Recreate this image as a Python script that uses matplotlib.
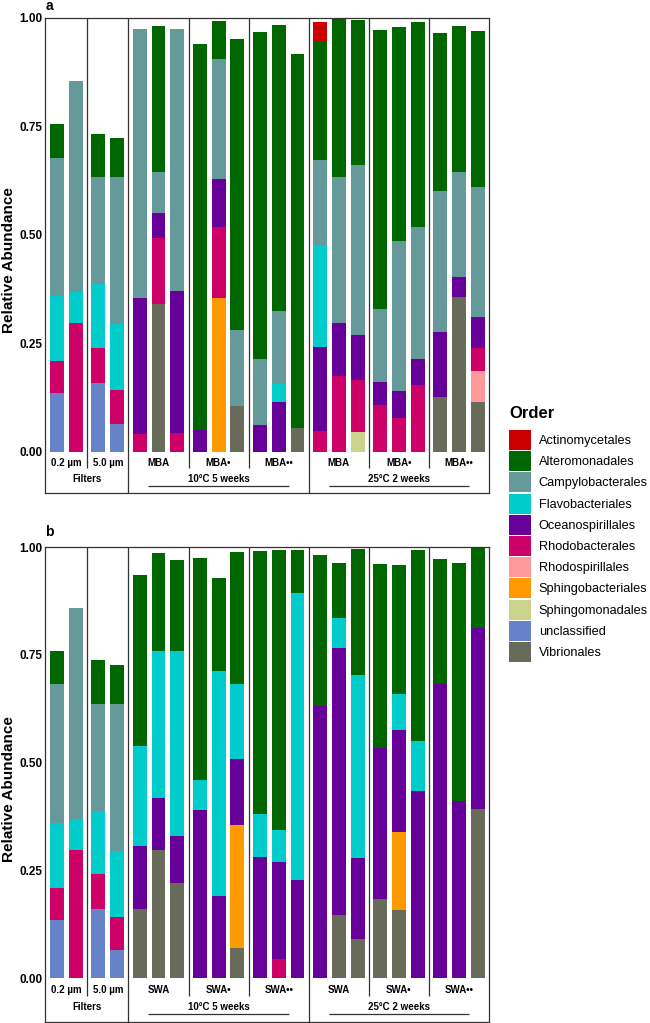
import matplotlib
matplotlib.use("Agg")
import matplotlib.pyplot as plt
from matplotlib.patches import Patch
import numpy as np

plt.rcParams['font.family'] = ['Liberation Sans', 'DejaVu Sans']

# ---------------- data ----------------
orders = ["Actinomycetales", "Alteromonadales", "Campylobacterales", "Flavobacteriales",
          "Oceanospirillales", "Rhodobacterales", "Rhodospirillales", "Sphingobacteriales",
          "Sphingomonadales", "unclassified", "Vibrionales"]
order_colors = ["#CC0000", "#006600", "#669999", "#00CCCC", "#660099", "#CC0066",
                "#FF9999", "#FF9900", "#CCD38C", "#6682C8", "#696B5A"]

group_sizes = [2, 2, 3, 3, 3, 3, 3, 3]
sub_labels_a = ["0.2 µm", "5.0 µm", "MBA", "MBA•", "MBA••", "MBA", "MBA•", "MBA••"]
sub_labels_b = ["0.2 µm", "5.0 µm", "SWA", "SWA•", "SWA••", "SWA", "SWA•", "SWA••"]
main_groups = ["Filters", "10°C 5 weeks", "25°C 2 weeks"]
main_group_span = [(0, 1), (2, 4), (5, 7)]   # which sub-groups belong to each main group
y_ticks = [0.0, 0.25, 0.5, 0.75, 1.0]
y_tick_labels = ["0.00", "0.25", "0.50", "0.75", "1.00"]

# panel a (MBA) -- relative abundance per order, 22 samples
a_actinomycetales = [0, 0, 0, 0, 0, 0, 0, 0, 0, 0, 0, 0, 0, .042, 0, 0, 0, 0, 0, 0, 0, 0]
a_alteromonadales = [.077, 0, .099, .089, 0, .338, 0, .889, .088, .671, .754, .658, .863,
                     .275, .364, .334, .642, .493, .472, .364, .338, .358]
a_campylobacterales = [.319, .487, .246, .339, .620, .094, .603, 0, .276, .173, .152, .168, 0,
                       .196, .335, .391, .169, .346, .304, .324, .240, .301]
a_flavobacteriales = [.150, .070, .148, .153, 0, 0, 0, 0, 0, 0, 0, .042, 0,
                      .236, 0, 0, 0, 0, 0, 0, 0, 0]
a_oceanospirillales = [0, 0, 0, 0, .313, .058, .328, .051, .112, 0, .062, .115, 0,
                       .193, .124, .103, .053, .062, .060, .150, .048, .070]
a_rhodobacterales = [.074, .298, .081, .077, .042, .150, .044, 0, .164, 0, 0, 0, 0,
                     .048, .174, .120, .108, .079, .154, 0, 0, .053]
a_rhodospirillales = [0, 0, 0, 0, 0, 0, 0, 0, 0, 0, 0, 0, 0, 0, 0, 0, 0, 0, 0, 0, 0, .071]
a_sphingobacteriales = [0, 0, 0, 0, 0, 0, 0, 0, .354, 0, 0, 0, 0, 0, 0, 0, 0, 0, 0, 0, 0, 0]
a_sphingomonadales = [0, 0, 0, 0, 0, 0, 0, 0, 0, 0, 0, 0, 0, 0, 0, .047, 0, 0, 0, 0, 0, 0]
a_unclassified = [.135, 0, .159, .065, 0, 0, 0, 0, 0, 0, 0, 0, 0, 0, 0, 0, 0, 0, 0, 0, 0, 0]
a_vibrionales = [0, 0, 0, 0, 0, .342, 0, 0, 0, .107, 0, 0, .055, 0, 0, 0, 0, 0, 0, .127, .356, .116]

# panel b (SWA)
b_actinomycetales = [0] * 22
b_alteromonadales = [.076, 0, .100, .090, .395, .228, .211, .516, .216, .305, .610, .649, .101,
                     .350, .127, .292, .428, .299, .442, .291, .552, .186]
b_campylobacterales = [.322, .488, .248, .341, 0, 0, 0, 0, 0, 0, 0, 0, 0,
                       0, 0, 0, 0, 0, 0, 0, 0, 0]
b_flavobacteriales = [.150, .072, .147, .154, .233, .340, .429, .068, .522, .174, .099, .072, .666,
                      0, .069, .425, 0, .084, .116, 0, 0, 0]
b_oceanospirillales = [0, 0, 0, 0, .145, .121, .107, .391, .190, .153, .282, .226, .227,
                       .631, .620, .187, .350, .235, .434, .682, .412, .420]
b_rhodobacterales = [.075, .298, .082, .076, 0, 0, 0, 0, 0, 0, 0, .045, 0,
                     0, 0, 0, 0, 0, 0, 0, 0, 0]
b_rhodospirillales = [0] * 22
b_sphingobacteriales = [0, 0, 0, 0, 0, 0, 0, 0, 0, .286, 0, 0, 0, 0, 0, 0, 0, .182, 0, 0, 0, 0]
b_sphingomonadales = [0] * 22
b_unclassified = [.135, 0, .160, .066, 0, 0, 0, 0, 0, 0, 0, 0, 0, 0, 0, 0, 0, 0, 0, 0, 0, 0]
b_vibrionales = [0, 0, 0, 0, .161, .297, .222, 0, 0, .070, 0, 0, 0,
                 0, .147, .091, .183, .158, 0, 0, 0, .392]

panel_a = [a_actinomycetales, a_alteromonadales, a_campylobacterales, a_flavobacteriales,
           a_oceanospirillales, a_rhodobacterales, a_rhodospirillales, a_sphingobacteriales,
           a_sphingomonadales, a_unclassified, a_vibrionales]
panel_b = [b_actinomycetales, b_alteromonadales, b_campylobacterales, b_flavobacteriales,
           b_oceanospirillales, b_rhodobacterales, b_rhodospirillales, b_sphingobacteriales,
           b_sphingomonadales, b_unclassified, b_vibrionales]

# ---------------- layout ----------------
W, H = 650, 1023
fig = plt.figure(figsize=(W / 100, H / 100), dpi=100)


def rect(left, right, top, bottom):
    return [left / W, 1 - bottom / H, (right - left) / W, (bottom - top) / H]


GAP = 0.2
positions = []
group_bounds = []
idx = 0
for g, n in enumerate(group_sizes):
    ps = [idx + k + GAP * g for k in range(n)]
    positions += ps
    group_bounds.append((ps[0], ps[-1]))
    idx += n
positions = np.array(positions)
dividers = [(group_bounds[i][1] + group_bounds[i + 1][0]) / 2 for i in range(len(group_bounds) - 1)]
x_left, x_right = -0.64, positions[-1] + 0.59

frame_col = "#333333"


def draw_panel(ax, data, sub_labels, ybot, y_sub, y_main, y_line, y_subdiv):
    bottom = np.zeros(len(positions))
    for k in range(len(orders) - 1, -1, -1):
        vals = np.array(data[k], dtype=float)
        ax.bar(positions, vals, width=0.74, bottom=bottom, color=order_colors[k], linewidth=0)
        bottom += vals
    ax.set_xlim(x_left, x_right)
    ax.set_ylim(ybot, 1.0)
    ax.set_xticks([])
    ax.set_yticks(y_ticks)
    ax.set_yticklabels(y_tick_labels, fontsize=8.5, fontweight='bold')
    ax.tick_params(axis='y', length=0, pad=2)
    for sp in ax.spines.values():
        sp.set_color(frame_col)
        sp.set_linewidth(0.9)
    # dividers
    main_div_idx = [main_group_span[i][1] for i in range(len(main_group_span) - 1)]
    for i, d in enumerate(dividers):
        if i in main_div_idx:
            ax.vlines(d, ybot, 1.0, color=frame_col, lw=0.9)
        else:
            ax.vlines(d, y_subdiv, 1.0, color=frame_col, lw=0.9)
    # sub labels
    for g, (p0, p1) in enumerate(group_bounds):
        ax.text((p0 + p1) / 2, y_sub, sub_labels[g], ha='center', va='center',
                fontsize=7, fontweight='bold')
    # main group labels
    edges = [x_left] + dividers + [x_right]
    for m, (g0, g1) in enumerate(main_group_span):
        l = edges[g0]
        r = edges[g1 + 1]
        ax.text((l + r) / 2, y_main, main_groups[m], ha='center', va='center',
                fontsize=7, fontweight='bold')
        if m > 0:
            ax.hlines(y_line, l + 1.05, r - 1.05, color=frame_col, lw=0.9)
    ax.text(-0.082, 0.49, "Relative Abundance", transform=ax.transAxes, rotation=90,
            ha='center', va='center', fontsize=11, fontweight='bold')


ax_a = fig.add_axes(rect(45, 489, 18, 493))
draw_panel(ax_a, panel_a, sub_labels_a, -0.0945, -0.025, -0.062, -0.078, -0.036)
ax_b = fig.add_axes(rect(45, 489, 547, 1022))
draw_panel(ax_b, panel_b, sub_labels_b, -0.101, -0.027, -0.066, -0.083, -0.040)

fig.text(49 / W, 1 - 6 / H, "a", fontsize=10, fontweight='bold', ha='center', va='center')
fig.text(49 / W, 1 - 532 / H, "b", fontsize=10, fontweight='bold', ha='center', va='center')

# legend
fig.text(509 / W, 1 - 414 / H, "Order", fontsize=12, fontweight='bold', ha='left', va='center')
handles = [Patch(facecolor=c, edgecolor='none') for c in order_colors]
fig.legend(handles, orders, loc='upper left', bbox_to_anchor=(509 / W, 1 - 430 / H),
           frameon=False, fontsize=9.2, handlelength=1.72, handleheight=2.03,
           labelspacing=0.094, handletextpad=0.6, borderpad=0, borderaxespad=0)

fig.savefig("out.png", dpi=100)
